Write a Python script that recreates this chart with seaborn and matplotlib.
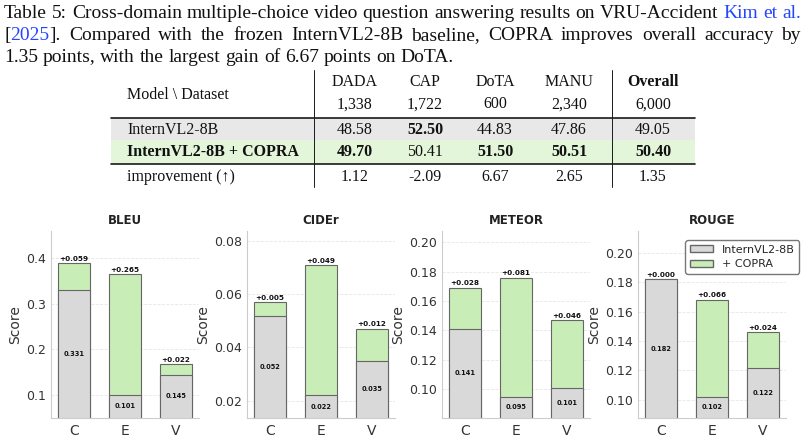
import re
import numpy as np
import pandas as pd
import matplotlib
matplotlib.use("Agg")
import matplotlib.pyplot as plt
from matplotlib.patches import Patch, Rectangle
from matplotlib.ticker import MultipleLocator
import seaborn as sns

# caption text, words in {...} are drawn in link colour
caption = [
    "Table 5: Cross-domain multiple-choice video question answering results on VRU-Accident {Kim} {et} {al.}",
    "[{2025}]. Compared with the frozen InternVL2-8B baseline, COPRA improves overall accuracy by",
    "1.35 points, with the largest gain of 6.67 points on DoTA.",
]

# table data
datasets = ["DADA", "CAP", "DoTA", "MANU", "Overall"]
n_samples = ["1,338", "1,722", "600", "2,340", "6,000"]
acc_base = [48.58, 52.50, 44.83, 47.86, 49.05]
acc_copra = [49.70, 50.41, 51.50, 50.51, 50.40]
improvement = [1.12, -2.09, 6.67, 2.65, 1.35]

# captioning metrics (C / E / V)
tasks = ["C", "E", "V"]
metrics = ["BLEU", "CIDEr", "METEOR", "ROUGE"]
bleu_base = [0.331, 0.101, 0.145]
bleu_gain = [0.059, 0.265, 0.022]
cider_base = [0.052, 0.022, 0.035]
cider_gain = [0.005, 0.049, 0.012]
meteor_base = [0.141, 0.095, 0.101]
meteor_gain = [0.028, 0.081, 0.046]
rouge_base = [0.182, 0.102, 0.122]
rouge_gain = [0.000, 0.066, 0.024]

sns.set_theme(style="whitegrid", rc={
    "grid.linestyle": "--",
    "grid.color": "#e6e6e6",
    "grid.linewidth": 0.6,
    "axes.edgecolor": "#cccccc",
    "axes.linewidth": 0.8,
    "xtick.labelsize": 10,
    "ytick.labelsize": 9,
    "xtick.color": "#333333",
    "ytick.color": "#333333",
    "axes.labelcolor": "#333333",
    "xtick.major.size": 0,
    "ytick.major.size": 0,
    "xtick.major.pad": 4.5,
    "ytick.major.pad": 3.5,
})
plt.rcParams["font.family"] = ["DejaVu Sans"]

SERIF = ["Liberation Serif", "DejaVu Serif"]
LINK = "#2446ff"
INK = "#111111"
GREY = "#d9d9d9"
GREEN = "#c8edb6"
EDGE = "#666666"

fig = plt.figure(figsize=(8.08, 4.44), dpi=100)

# full-figure axes in pixel units for the caption and the table
page = fig.add_axes([0, 0, 1, 1])
page.set_autoscale_on(False)
page.set_xlim(0, 808)
page.set_ylim(444, 0)
page.axis("off")
renderer = fig.canvas.get_renderer()


def put_line(line, y, x0, x1, justify, size=14.0):
    words = []
    for w in line.split(" "):
        objs = []
        for p in re.split(r"(\{[^}]*\})", w):
            if not p:
                continue
            if p.startswith("{"):
                s, c = p[1:-1], LINK
            else:
                s, c = p, INK
            t = page.text(0, y, s, fontsize=size, family=SERIF, color=c,
                          va="baseline", ha="left")
            objs.append((t, t.get_window_extent(renderer).width))
        words.append(objs)
    widths = [sum(wd for _, wd in objs) for objs in words]
    if justify:
        gap = (x1 - x0 - sum(widths)) / (len(words) - 1)
    else:
        gap = 0.25 * size * 100 / 72
    x = x0
    for objs in words:
        for t, wd in objs:
            t.set_x(x)
            x += wd
        x += gap


for i, (line, yb) in enumerate(zip(caption, [17.5, 40, 62.5])):
    put_line(line, yb, 4, 801, justify=(i < len(caption) - 1))

# table
left, right = 111, 695
col_x = [355, 425, 495, 569, 653]
tsize = 11.5
for xv in [314, 612]:
    page.plot([xv, xv], [70, 187], color="k", lw=0.7)
page.add_patch(Rectangle((left, 118), right - left, 22, facecolor="#e4e4e4",
                         edgecolor="none", alpha=0.85))
page.add_patch(Rectangle((left, 140), right - left, 24, facecolor="#e0f5d3",
                         edgecolor="none", alpha=0.85))
for yv in [118, 164]:
    page.plot([left, right], [yv, yv], color="k", lw=1.2)

page.text(127, 99, "Model \\ Dataset", fontsize=tsize, family=SERIF, color=INK, va="baseline")
page.text(127, 134.3, "InternVL2-8B", fontsize=tsize, family=SERIF, color=INK, va="baseline")
page.text(127, 156.3, "InternVL2-8B + COPRA", fontsize=tsize, family=SERIF, color=INK,
          va="baseline", weight="bold")
page.text(127, 181.3, "improvement (\u2191)", fontsize=tsize, family=SERIF, color=INK, va="baseline")

for j, xc in enumerate(col_x):
    kw = dict(fontsize=tsize, family=SERIF, color=INK, va="baseline", ha="center")
    page.text(xc, 86.3, datasets[j], weight="bold" if datasets[j] == "Overall" else "normal", **kw)
    page.text(xc, 108.3, n_samples[j], **kw)
    b, c = acc_base[j], acc_copra[j]
    page.text(xc, 134.3, f"{b:.2f}", weight="bold" if b > c else "normal", **kw)
    page.text(xc, 156.3, f"{c:.2f}", weight="bold" if c > b else "normal", **kw)
    page.text(xc, 181.3, f"{improvement[j]:.2f}", **kw)

# bar panels
panel_left = [51, 247, 442, 638]
y_floor = [0.0495, 0.0135, 0.0804, 0.0877]
y_step = [0.1, 0.02, 0.02, 0.02]
bases = [bleu_base, cider_base, meteor_base, rouge_base]
gains = [bleu_gain, cider_gain, meteor_gain, rouge_gain]

for k, metric in enumerate(metrics):
    ax = fig.add_axes([panel_left[k] / 808, 26 / 444, 148 / 808, 187 / 444])
    df = pd.DataFrame({"task": tasks, "base": bases[k],
                       "total": np.add(bases[k], gains[k])})
    sns.barplot(data=df, x="task", y="total", color=GREEN, saturation=1, width=0.62,
                edgecolor=EDGE, linewidth=0.8, errorbar=None, ax=ax)
    sns.barplot(data=df, x="task", y="base", color=GREY, saturation=1, width=0.62,
                edgecolor=EDGE, linewidth=0.8, errorbar=None, ax=ax)
    ax.set_ylim(y_floor[k], df["total"].max() * 1.18)
    ax.set_xlim(-0.45, 2.45)
    ax.yaxis.set_major_locator(MultipleLocator(y_step[k]))
    ax.xaxis.grid(False)
    sns.despine(ax=ax)
    for i, row in df.iterrows():
        ax.annotate(f"+{row['total'] - row['base']:.3f}", (i, row["total"]),
                    xytext=(0, 1), textcoords="offset points", ha="center", va="bottom",
                    fontsize=5.2, weight="bold", color="#111111")
        ax.text(i, (y_floor[k] + row["base"]) / 2, f"{row['base']:.3f}", ha="center",
                va="center", fontsize=4.8, weight="bold", color="#111111")
    ax.set_title(metric, fontsize=8.5, weight="bold", pad=5, color="#222222")
    ax.set_xlabel("")
    ax.set_ylabel("Score", fontsize=10, labelpad=3)
    if metric == "ROUGE":
        handles = [Patch(facecolor=GREY, edgecolor=EDGE, label="InternVL2-8B"),
                   Patch(facecolor=GREEN, edgecolor=EDGE, label="+ COPRA")]
        ax.legend(handles=handles, loc="upper right", bbox_to_anchor=(1.09, 0.95),
                  borderaxespad=0, fontsize=8, handlelength=2.1, handleheight=0.6,
                  labelspacing=0.4, framealpha=1, edgecolor="#777777")

fig.savefig("out.png", dpi=100)
